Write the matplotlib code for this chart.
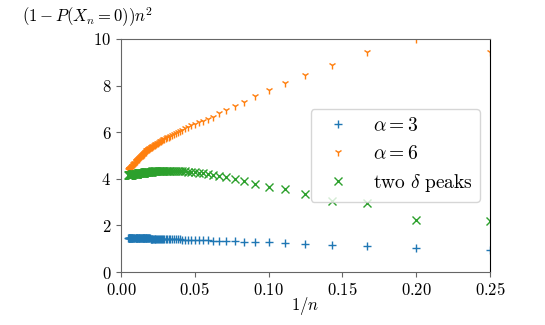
import matplotlib
matplotlib.use("Agg")
import matplotlib.pyplot as plt
from matplotlib.ticker import FuncFormatter

plt.rcParams['mathtext.fontset'] = 'cm'
plt.rcParams['font.family'] = 'serif'
plt.rcParams['font.size'] = 12

# sample sizes n (x axis shows 1/n)
n_vals = list(range(4, 71)) + list(range(72, 101, 2)) + list(range(105, 201, 5))

alpha3 = [0.96, 1.03, 1.10, 1.17, 1.21, 1.24, 1.27, 1.29, 1.305, 1.318,
          1.33, 1.34, 1.349, 1.356, 1.363, 1.37, 1.375, 1.38, 1.385, 1.389,
          1.392, 1.396, 1.399, 1.402, 1.405, 1.408, 1.41, 1.412, 1.414, 1.416,
          1.418, 1.42, 1.422, 1.423, 1.425, 1.426, 1.427, 1.429, 1.43, 1.431,
          1.432, 1.433, 1.434, 1.435, 1.436, 1.437, 1.438, 1.439, 1.44, 1.44,
          1.441, 1.442, 1.442, 1.443, 1.444, 1.444, 1.445, 1.446, 1.446, 1.447,
          1.447, 1.448, 1.448, 1.449, 1.449, 1.45, 1.45,
          1.451, 1.452, 1.452, 1.453, 1.454, 1.454, 1.455, 1.456, 1.456, 1.457,
          1.457, 1.458, 1.458, 1.459, 1.459,
          1.46, 1.461, 1.462, 1.462, 1.463, 1.464, 1.464, 1.465, 1.466, 1.466,
          1.466, 1.467, 1.467, 1.468, 1.468, 1.468, 1.469, 1.469, 1.469, 1.47]

alpha6 = [9.46, 10.0, 9.46, 8.89, 8.46, 8.10, 7.80, 7.56, 7.31, 7.12,
          6.96, 6.81, 6.67, 6.58, 6.50, 6.42, 6.36, 6.29, 6.22, 6.16,
          6.10, 6.05, 6.00, 5.96, 5.92, 5.88, 5.85, 5.81, 5.78, 5.75,
          5.72, 5.69, 5.66, 5.63, 5.61, 5.58, 5.55, 5.53, 5.51, 5.48,
          5.46, 5.44, 5.42, 5.40, 5.38, 5.36, 5.35, 5.33, 5.31, 5.29,
          5.28, 5.26, 5.25, 5.23, 5.22, 5.19, 5.16, 5.15, 5.13, 5.12,
          5.10, 5.08, 5.07, 5.05, 5.04, 5.02, 5.01,
          4.99, 4.96, 4.94, 4.92, 4.90, 4.88, 4.86, 4.84, 4.83, 4.81,
          4.79, 4.78, 4.76, 4.75, 4.73,
          4.70, 4.67, 4.645, 4.62, 4.60, 4.57, 4.55, 4.53, 4.515, 4.50,
          4.485, 4.47, 4.455, 4.44, 4.43, 4.42, 4.41, 4.40, 4.39, 4.38]

two_peaks = [2.21, 2.24, 2.96, 3.06, 3.34, 3.56, 3.63, 3.79, 3.89, 3.99,
             4.06, 4.10, 4.15, 4.19, 4.23, 4.26, 4.28, 4.30, 4.31, 4.32,
             4.33, 4.34, 4.34, 4.35, 4.35, 4.35, 4.35, 4.35, 4.35, 4.35,
             4.35, 4.34, 4.34, 4.34, 4.34, 4.33, 4.33, 4.33, 4.33, 4.33,
             4.32, 4.32, 4.32, 4.32, 4.31, 4.31, 4.31, 4.31, 4.30, 4.30,
             4.30, 4.30, 4.29, 4.29, 4.29, 4.29, 4.28, 4.28, 4.28, 4.28,
             4.27, 4.27, 4.27, 4.27, 4.26, 4.26, 4.26,
             4.26, 4.25, 4.25, 4.24, 4.24, 4.24, 4.23, 4.23, 4.23, 4.22,
             4.22, 4.22, 4.22, 4.21, 4.21,
             4.21, 4.20, 4.20, 4.20, 4.19, 4.19, 4.19, 4.18, 4.18, 4.18,
             4.17, 4.17, 4.17, 4.17, 4.16, 4.16, 4.16, 4.16, 4.15, 4.15]

x = [1.0 / n for n in n_vals]

fig = plt.figure(figsize=(5.45, 3.25), dpi=100)
ax = fig.add_axes([0.222, 0.163, 0.677, 0.717])

ax.plot(x, alpha3, '+', color='tab:blue', label=r'$\alpha=3$')
ax.plot(x, alpha6, '1', color='tab:orange', label=r'$\alpha=6$')
ax.plot(x, two_peaks, 'x', color='tab:green', label=r'$\mathrm{two}\ \delta\ \mathrm{peaks}$')

ax.set_xlim(0, 0.25)
ax.set_ylim(0, 10)
ax.set_xticks([0, 0.05, 0.10, 0.15, 0.20, 0.25])
ax.set_yticks([0, 2, 4, 6, 8, 10])
ax.xaxis.set_major_formatter(FuncFormatter(lambda v, p: r'$%.2f$' % v))
ax.yaxis.set_major_formatter(FuncFormatter(lambda v, p: r'$%d$' % round(v)))

for side in ['left', 'top', 'bottom']:
    ax.spines[side].set_color('#666666')
ax.spines['right'].set_color('black')
ax.tick_params(colors='#666666', labelcolor='black')

ax.set_xlabel(r'$1/n$', labelpad=-3)
ax.set_ylabel(r'$(1-P(X_n=0))n^2$', rotation=0, ha='center', va='center')
ax.yaxis.set_label_coords(-0.09, 1.094)

ax.legend(loc='center right', fontsize=14)

fig.savefig('out.png', dpi=100)
